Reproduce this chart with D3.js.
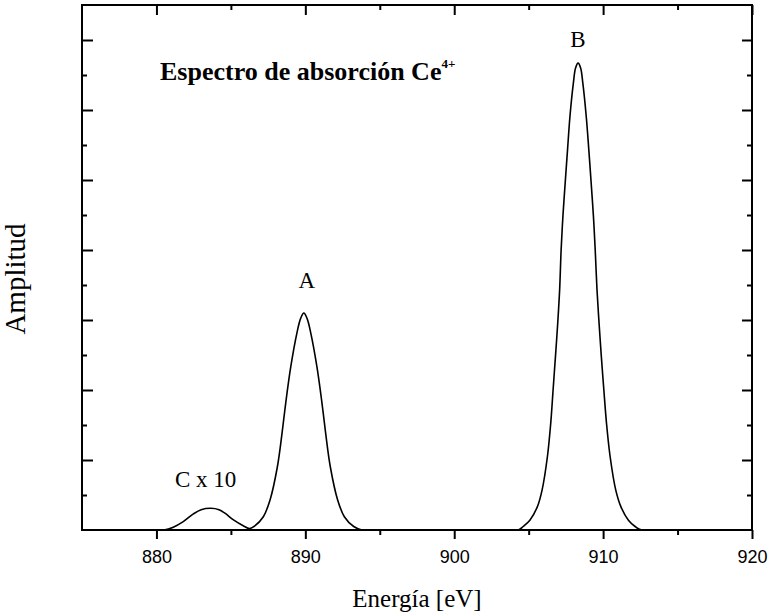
<!DOCTYPE html>
<html>
<head>
<meta charset="utf-8">
<script src="https://cdn.jsdelivr.net/npm/d3@7"></script>
<style>
  html, body { margin: 0; padding: 0; background: #fff; }
  svg { display: block; }
</style>
</head>
<body>
<svg id="chart" width="770" height="614"></svg>
<script>
// ---- data ----
const energy = [875.0, 878.0, 880.5, 881.13, 881.8, 882.48, 883.0, 883.66, 884.2, 884.6, 885.2, 885.83, 886.25,
  886.55, 887.18, 887.63, 888.12, 888.44, 888.71, 889.02, 889.43, 889.68, 889.9, 890.12, 890.37, 890.78, 891.09,
  891.36, 891.68, 892.17, 892.62, 893.25, 893.8, 900.0, 904.3,
  904.63, 905.08, 905.58, 905.90, 906.26, 906.48, 906.64, 906.80, 906.95, 907.08, 907.18, 907.30, 907.45, 907.61,
  907.77, 908.00, 908.15, 908.32, 908.49,
  908.64, 908.87, 909.04, 909.20, 909.35, 909.47, 909.59, 909.73, 909.88, 910.05, 910.23, 910.47, 910.85, 911.20,
  911.70, 912.15, 912.6, 920.0];
const amplitude = [0, 0, 0, 0.04, 0.12, 0.23, 0.29, 0.31, 0.29, 0.24, 0.14, 0.06, 0.02,
  0.05, 0.19, 0.43, 0.90, 1.39, 1.86, 2.33, 2.81, 3.02, 3.10, 3.02, 2.81, 2.33, 1.86,
  1.39, 0.90, 0.43, 0.19, 0.05, 0, 0, 0,
  0.05, 0.14, 0.33, 0.57, 1.05, 1.52, 2.00, 2.48, 2.95, 3.43, 4.00, 4.48, 4.95, 5.43,
  5.90, 6.38, 6.60, 6.67, 6.60,
  6.38, 5.90, 5.43, 4.95, 4.48, 4.00, 3.43, 2.95, 2.48, 2.00, 1.52, 1.05, 0.57, 0.33,
  0.14, 0.05, 0, 0];
const xMajorTicks = [880, 890, 900, 910, 920];
const xMinorTicks = [885, 895, 905, 915];
const yMajorTicks = [1, 2, 3, 4, 5, 6, 7];
const yMinorTicks = [0.5, 1.5, 2.5, 3.5, 4.5, 5.5, 6.5];
const peakLabels = [
  { text: "A", e: 890.1, a: 3.46 },
  { text: "B", e: 908.3, a: 6.9 },
  { text: "C x 10", e: 883.3, a: 0.61 }
];
const titleText = "Espectro de absorción Ce";
const titleSup = "4+";
const xLabel = "Energía [eV]";
const yLabel = "Amplitud";

// ---- layout ----
const L = 82, R = 752, T = 5, B = 530;
const svg = d3.select("#chart");
const x = d3.scaleLinear().domain([875, 920]).range([L, R]);
const y = d3.scaleLinear().domain([0, 7.5]).range([B, T]);

const serif = "'Liberation Serif', 'Times New Roman', serif";
const sans = "'Liberation Sans', Arial, sans-serif";

function styleAxis(g) {
  g.select(".domain").remove();
  g.selectAll(".tick line").attr("stroke", "#000").attr("stroke-width", 2);
}

svg.append("defs").append("clipPath").attr("id", "plot")
  .append("rect").attr("x", L).attr("y", T).attr("width", R - L).attr("height", B - T);

// bottom axis (outward ticks, labels)
svg.append("g").attr("transform", `translate(0,${B})`)
  .call(d3.axisBottom(x).tickValues(xMajorTicks).tickSize(9).tickPadding(11).tickFormat(d3.format("d")))
  .call(styleAxis)
  .call(g => g.selectAll("text").attr("font-family", sans).attr("font-size", 18).attr("fill", "#000"));
svg.append("g").attr("transform", `translate(0,${B})`)
  .call(d3.axisBottom(x).tickValues(xMinorTicks).tickSize(5).tickFormat(""))
  .call(styleAxis);

// top axis (inward ticks)
svg.append("g").attr("transform", `translate(0,${T})`)
  .call(d3.axisTop(x).tickValues(xMajorTicks).tickSize(-10).tickFormat(""))
  .call(styleAxis);
svg.append("g").attr("transform", `translate(0,${T})`)
  .call(d3.axisTop(x).tickValues(xMinorTicks).tickSize(-5).tickFormat(""))
  .call(styleAxis);

// left axis (inward ticks)
svg.append("g").attr("transform", `translate(${L},0)`)
  .call(d3.axisLeft(y).tickValues(yMajorTicks).tickSize(-11).tickFormat(""))
  .call(styleAxis);
svg.append("g").attr("transform", `translate(${L},0)`)
  .call(d3.axisLeft(y).tickValues(yMinorTicks).tickSize(-5).tickFormat(""))
  .call(styleAxis);

// right axis (inward ticks)
svg.append("g").attr("transform", `translate(${R},0)`)
  .call(d3.axisRight(y).tickValues(yMajorTicks).tickSize(-10).tickFormat(""))
  .call(styleAxis);
svg.append("g").attr("transform", `translate(${R},0)`)
  .call(d3.axisRight(y).tickValues(yMinorTicks).tickSize(-5).tickFormat(""))
  .call(styleAxis);

// curve
const pts = energy.map((e, i) => [e, amplitude[i]]);
svg.append("path")
  .datum(pts)
  .attr("clip-path", "url(#plot)")
  .attr("fill", "none")
  .attr("stroke", "#000")
  .attr("stroke-width", 1.6)
  .attr("stroke-linejoin", "round")
  .attr("d", d3.line().x(d => x(d[0])).y(d => y(d[1])).curve(d3.curveCatmullRom.alpha(0.5)));

// frame
svg.append("rect")
  .attr("x", L).attr("y", T).attr("width", R - L).attr("height", B - T)
  .attr("fill", "none").attr("stroke", "#000").attr("stroke-width", 2);

// peak labels
svg.selectAll(".peak").data(peakLabels).enter().append("text")
  .attr("class", "peak")
  .attr("x", d => x(d.e)).attr("y", d => y(d.a))
  .attr("text-anchor", "middle")
  .attr("font-family", serif).attr("font-size", 23).attr("fill", "#000")
  .text(d => d.text);

// title
const title = svg.append("text")
  .attr("x", 160).attr("y", 80)
  .attr("font-family", serif).attr("font-weight", "bold").attr("font-size", 26).attr("fill", "#000");
title.append("tspan").text(titleText);
title.append("tspan").attr("font-size", 13).attr("dy", -12).text(titleSup);

// axis labels
svg.append("text")
  .attr("x", (L + R) / 2).attr("y", 607)
  .attr("text-anchor", "middle")
  .attr("font-family", serif).attr("font-size", 25).attr("fill", "#000")
  .text(xLabel);
svg.append("text")
  .attr("transform", `translate(25,${279}) rotate(-90)`)
  .attr("text-anchor", "middle")
  .attr("font-family", serif).attr("font-size", 29).attr("fill", "#000")
  .text(yLabel);
</script>
</body>
</html>
